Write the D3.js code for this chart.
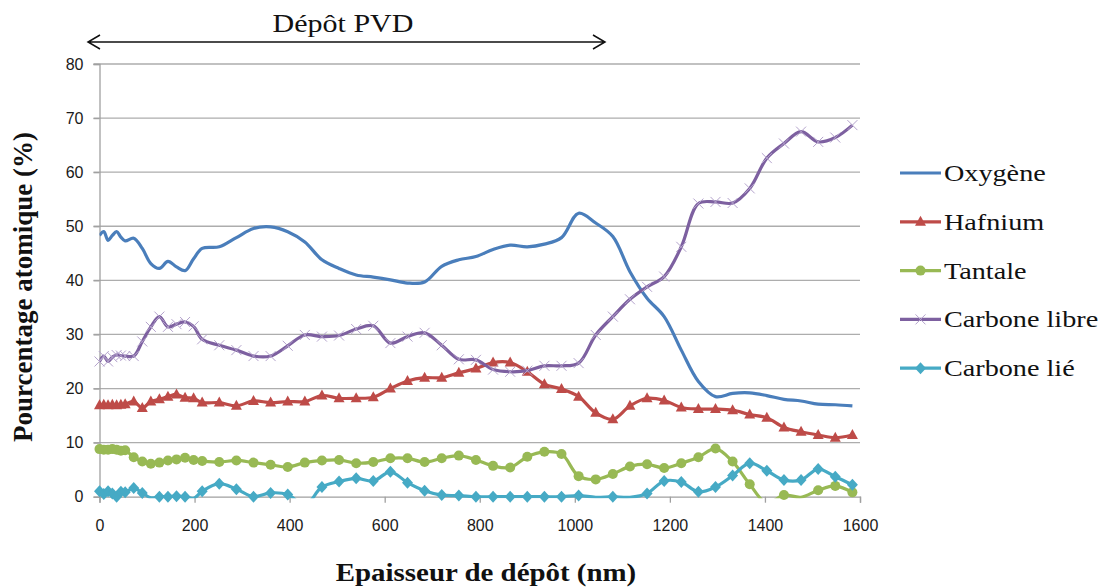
<!DOCTYPE html>
<html>
<head>
<meta charset="utf-8">
<script src="https://cdn.jsdelivr.net/npm/d3@7"></script>
<style>
  html, body { margin: 0; padding: 0; background: #fff; }
  svg { display: block; }
</style>
</head>
<body>
<svg id="chart" width="1102" height="587"></svg>
<script>
// Thickness (nm) of each measurement point
const thickness = [0, 9, 18, 27, 36, 45, 54, 72, 90, 108, 126, 144, 162, 180, 198, 216,
  252, 288, 324, 360, 396, 432, 468, 504, 540, 576, 612, 648, 684, 720, 756, 792, 828,
  864, 900, 936, 972, 1008, 1044, 1080, 1116, 1152, 1188, 1224, 1260, 1296, 1332, 1368,
  1404, 1440, 1476, 1512, 1548, 1584];

// Atomic percentages per element
const oxygene = [48.3, 49.0, 47.4, 48.3, 49.0, 48.0, 47.3, 47.8, 45.9, 43.1, 42.2, 43.5,
  42.5, 41.8, 44.0, 45.9, 46.2, 47.9, 49.6, 49.9, 49.0, 47.1, 43.8, 42.2, 41.0, 40.6,
  40.1, 39.5, 39.7, 42.6, 43.8, 44.4, 45.7, 46.5, 46.2, 46.7, 47.9, 52.4, 50.6, 48.1,
  41.6, 36.7, 33.3, 27.1, 21.3, 18.5, 19.1, 19.2, 18.7, 18.0, 17.7, 17.1, 17.0, 16.8];

const hafnium = [16.9, 17.0, 16.9, 17.0, 16.9, 17.0, 17.1, 17.6, 16.4, 17.6, 18.0, 18.5,
  18.9, 18.3, 18.2, 17.4, 17.4, 16.8, 17.7, 17.4, 17.6, 17.6, 18.7, 18.2, 18.2, 18.4,
  20.0, 21.4, 22.0, 22.0, 22.9, 23.7, 24.8, 24.8, 23.1, 20.8, 19.9, 18.5, 15.5, 14.3,
  16.8, 18.2, 17.8, 16.5, 16.2, 16.2, 16.0, 15.2, 14.6, 12.8, 12.0, 11.4, 10.9, 11.4];

const tantale = [8.8, 8.7, 8.7, 8.8, 8.7, 8.5, 8.6, 7.3, 6.5, 6.1, 6.3, 6.7, 6.9, 7.2,
  6.8, 6.6, 6.4, 6.7, 6.3, 5.9, 5.5, 6.3, 6.7, 6.8, 6.2, 6.4, 7.1, 7.1, 6.4, 7.1, 7.6,
  6.8, 5.7, 5.4, 7.4, 8.3, 7.9, 3.8, 3.2, 4.2, 5.6, 6.0, 5.3, 6.2, 7.3, 8.9, 6.5, 2.3,
  -1.2, 0.3, -0.1, 1.2, 2.0, 0.8];

const carboneLibre = [25.0, 26.0, 25.0, 25.8, 26.2, 26.1, 26.0, 26.0, 28.7, 31.4, 33.3,
  31.4, 31.9, 32.3, 31.5, 29.1, 28.0, 27.1, 26.0, 26.0, 27.9, 29.9, 29.6, 29.8, 31.0,
  31.6, 28.4, 29.6, 30.3, 28.0, 25.4, 25.3, 23.5, 23.1, 23.3, 24.2, 24.2, 24.7, 29.9,
  33.3, 36.5, 38.8, 40.7, 46.2, 54.2, 54.5, 54.3, 57.0, 62.6, 65.3, 67.5, 65.6, 66.4, 68.7];

const carboneLie = [1.0, 0.5, 1.0, 0.6, 0.0, 0.9, 0.8, 1.6, 0.7, -0.2, 0.0, 0.0, 0.1, 0.0,
  -0.3, 1.0, 2.4, 1.4, 0.0, 0.7, 0.4, -1.6, 1.8, 2.8, 3.4, 2.9, 4.6, 2.6, 1.1, 0.3, 0.2,
  0.0, 0.0, 0.0, 0.0, 0.0, 0.0, 0.2, -0.1, 0.0, -0.1, 0.6, 2.9, 2.7, 0.9, 1.8, 3.9, 6.2,
  4.8, 3.1, 3.1, 5.1, 3.7, 2.2];

const seriesNames = ["Oxygène", "Hafnium", "Tantale", "Carbone libre", "Carbone lié"];
const seriesValues = [oxygene, hafnium, tantale, carboneLibre, carboneLie];
const seriesColors = ["#4a7ebb", "#be4b48", "#98b954", "#7d60a0", "#46aac5"];
const seriesMarkers = ["none", "triangle", "circle", "cross", "diamond"];

const xTicks = [0, 200, 400, 600, 800, 1000, 1200, 1400, 1600];
const yTicks = [0, 10, 20, 30, 40, 50, 60, 70, 80];

const svg = d3.select("#chart");
const plotLeft = 99.5, plotRight = 860, plotTop = 64, plotBottom = 496.7;
const serif = "Liberation Serif, Times New Roman, serif";
const sans = "Liberation Sans, Arial, sans-serif";

const x = d3.scaleLinear().domain([0, 1600]).range([plotLeft, plotRight]);
const y = d3.scaleLinear().domain([0, 80]).range([plotBottom, plotTop]);

// Horizontal gridlines
svg.append("g")
  .selectAll("line")
  .data(yTicks.filter(d => d > 0))
  .join("line")
  .attr("x1", plotLeft - 6).attr("x2", plotRight)
  .attr("y1", d => y(d)).attr("y2", d => y(d))
  .attr("stroke", "#adadad").attr("stroke-width", 1.3);

// Y axis (line + labels)
const yAxis = d3.axisLeft(y).tickValues(yTicks).tickSize(6).tickPadding(10);
const gy = svg.append("g").attr("transform", `translate(${plotLeft},0)`).call(yAxis);
gy.select(".domain").attr("stroke", "#a0a0a0").attr("stroke-width", 1.3);
gy.selectAll(".tick line").attr("stroke", "#a0a0a0").attr("stroke-width", 1.3);
gy.selectAll(".tick text")
  .attr("font-family", sans).attr("font-size", 16).attr("fill", "#1a1a1a");

// X axis
const xAxis = d3.axisBottom(x).tickValues(xTicks).tickFormat(d3.format("d"))
  .tickSize(6).tickPadding(17);
const gx = svg.append("g").attr("transform", `translate(0,${plotBottom})`).call(xAxis);
gx.select(".domain").attr("stroke", "#a0a0a0").attr("stroke-width", 1.3);
gx.selectAll(".tick line").attr("stroke", "#a0a0a0").attr("stroke-width", 1.3);
gx.selectAll(".tick text")
  .attr("font-family", sans).attr("font-size", 16).attr("fill", "#1a1a1a");

// Clip the curves to the plot area (values below 0 disappear)
svg.append("clipPath").attr("id", "plotClip")
  .append("rect")
  .attr("x", plotLeft).attr("y", plotTop - 10)
  .attr("width", plotRight - plotLeft + 10).attr("height", plotBottom - plotTop + 11.5);

const line = d3.line()
  .x(d => x(d[0]))
  .y(d => y(d[1]))
  .curve(d3.curveCatmullRom.alpha(0.5));

function drawMarker(g, kind, color, cx, cy) {
  if (kind === "triangle") {
    g.append("path")
      .attr("d", `M${cx},${cy - 6}L${cx + 5.5},${cy + 4}L${cx - 5.5},${cy + 4}Z`)
      .attr("fill", color);
  } else if (kind === "circle") {
    g.append("circle").attr("cx", cx).attr("cy", cy).attr("r", 5).attr("fill", color);
  } else if (kind === "diamond") {
    g.append("path")
      .attr("d", `M${cx},${cy - 6}L${cx + 5.5},${cy}L${cx},${cy + 6}L${cx - 5.5},${cy}Z`)
      .attr("fill", color);
  } else if (kind === "cross") {
    g.append("path")
      .attr("d", `M${cx - 5},${cy - 5}L${cx + 5},${cy + 5}M${cx - 5},${cy + 5}L${cx + 5},${cy - 5}`)
      .attr("stroke", "#b4a3cc").attr("stroke-width", 1).attr("fill", "none");
  }
}

const plot = svg.append("g");
seriesValues.forEach((vals, i) => {
  const pts = thickness.map((t, j) => [t, vals[j]]);
  const g = plot.append("g");
  g.append("path")
    .attr("d", line(pts))
    .attr("clip-path", "url(#plotClip)")
    .attr("fill", "none")
    .attr("stroke", seriesColors[i])
    .attr("stroke-width", 3.2)
    .attr("stroke-linejoin", "round");
  if (seriesMarkers[i] !== "none") {
    pts.filter(p => p[1] >= 0).forEach(p => {
      drawMarker(g, seriesMarkers[i], seriesColors[i], x(p[0]), y(p[1]));
    });
  }
});

// Legend
const legendY0 = 173, legendStep = 48.8;
const legend = svg.append("g");
seriesNames.forEach((name, i) => {
  const ly = legendY0 + i * legendStep;
  legend.append("line")
    .attr("x1", 900).attr("x2", 941).attr("y1", ly).attr("y2", ly)
    .attr("stroke", seriesColors[i]).attr("stroke-width", 3.2);
  if (seriesMarkers[i] !== "none") drawMarker(legend, seriesMarkers[i], seriesColors[i], 920.5, ly);
  legend.append("text")
    .attr("transform", `translate(944,${ly + 8}) scale(1.2,1)`)
    .attr("font-family", serif)
    .attr("font-size", 23.5).attr("fill", "#111")
    .text(name);
});

// Axis titles
svg.append("text")
  .attr("transform", "translate(486,581) scale(1.18,1)")
  .attr("text-anchor", "middle")
  .attr("font-family", serif)
  .attr("font-weight", "bold").attr("font-size", 24.5).attr("fill", "#111")
  .text("Epaisseur de dépôt (nm)");

svg.append("text")
  .attr("transform", "translate(32,287) rotate(-90)")
  .attr("text-anchor", "middle")
  .attr("font-family", serif)
  .attr("font-weight", "bold").attr("font-size", 27).attr("fill", "#111")
  .text("Pourcentage atomique (%)");

// PVD deposition span annotation
svg.append("text")
  .attr("transform", "translate(343,32) scale(1.2,1)")
  .attr("text-anchor", "middle")
  .attr("font-family", serif)
  .attr("font-size", 25).attr("fill", "#111")
  .text("Dépôt PVD");

const ax1 = 88, ax2 = 605, ay = 42;
svg.append("path")
  .attr("d", `M${ax1},${ay}L${ax2},${ay}M${ax1 + 12},${ay - 7}L${ax1},${ay}L${ax1 + 12},${ay + 7}M${ax2 - 12},${ay - 7}L${ax2},${ay}L${ax2 - 12},${ay + 7}`)
  .attr("fill", "none").attr("stroke", "#111").attr("stroke-width", 1.5);
</script>
</body>
</html>
